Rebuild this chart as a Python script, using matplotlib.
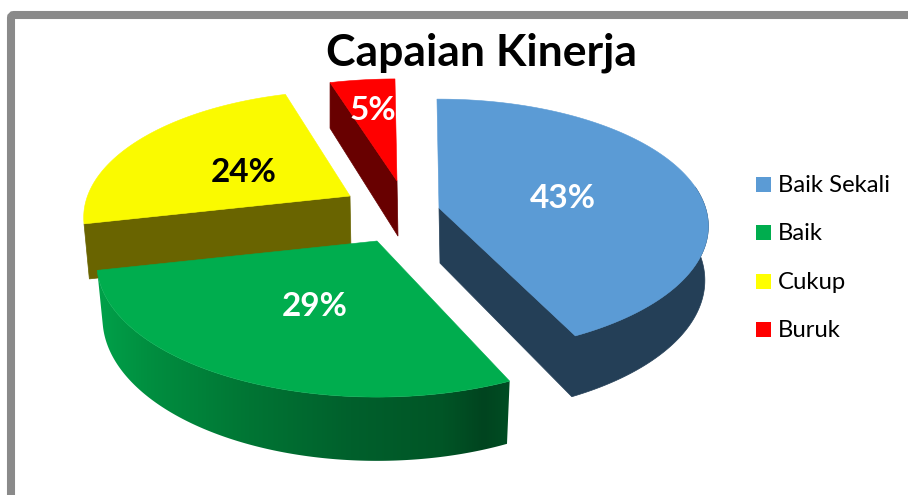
import numpy as np
import matplotlib
matplotlib.use('Agg')
import matplotlib.pyplot as plt
from matplotlib.patches import Polygon, Rectangle, FancyBboxPatch
from matplotlib.colors import to_rgb

plt.rcParams['font.family'] = ['Lato', 'DejaVu Sans']

# data
labels = ['Baik Sekali', 'Baik', 'Cukup', 'Buruk']
values = [43, 29, 24, 4.5]  # slice sizes
pct_labels = ['43%', '29%', '24%', '5%']

# styles
top_colors = ['#5b9bd5', '#00ad4e', '#fafa00', '#ff0000']
cut_colors = ['#243f57', '#00441f', '#696400', '#680000']
pct_colors = ['white', 'white', 'black', 'white']
legend_colors = ['#5b9bd5', '#00ad4e', '#ffff00', '#ff0000']
wall_x = [100, 150, 250, 350, 440, 480, 510]
wall_cols = ['#00a24a', '#008f40', '#007534', '#00602c', '#005526', '#00441f', '#004f24']

# layout, in pixels of the 908x495 picture
W, H = 908, 495
apex = [(439, 208), (377, 241), (350, 196), (397, 181)]
pct_pos = [(563, 199), (315, 307), (244, 172), (373, 110)]
rx_scale = [0.98, 1.015, 0.965, 1.0]
ry_scale = [0.96, 1.0, 0.95, 0.92]
k_persp = [0.1435, 0.169, 0.169, 0.169]
x_shift = [-3.5, 0, 0, 0]
x_shrink = [0, 0.02, 0.02, 0]
start_trim = [0, 2.5, 0, 0]
RX, RY = 272, 129.7
DEPTH = 53
START = -0.5


def project(ang, i, drop=0.0):
    # ang = clockwise degrees from 12 o'clock, simple perspective on the pie plane
    t = np.radians(ang)
    u, v = np.sin(t), np.cos(t)
    s = 1 / (1 + k_persp[i] * v)
    x = apex[i][0] + RX * rx_scale[i] * u * s * (1 - x_shrink[i] * drop) + x_shift[i] * drop
    y = apex[i][1] - RY * ry_scale[i] * v * s + DEPTH * s * drop
    return x, y


def arc(a0, a1, i, drop=0.0, n=160):
    x, y = project(np.linspace(a0, a1, n), i, drop)
    return np.column_stack([x, y])


fig = plt.figure(figsize=(W / 100, H / 100), dpi=100)
ax = fig.add_axes([0, 0, 1, 1])

# frame
ax.add_patch(FancyBboxPatch((11, 15), W + 40, H + 40, boxstyle='round,pad=0,rounding_size=3',
                            fc='white', ec='#8a8a8a', lw=5.8, zorder=0))

edges = np.cumsum([0] + values) / sum(values) * 360 + START

# yellow and red sit behind, green in front
for z, i in enumerate([2, 3, 0, 1]):
    a0, a1 = edges[i] + start_trim[i], edges[i + 1]
    c = apex[i]
    zz = 1 + z * 0.1
    low_c = (c[0] + 1, c[1] + DEPTH * 1.04)

    if i == 0:
        # blue cut face and wall as one shape, so no seam between them
        side = np.vstack([[c], [low_c], arc(a1, 80, i, 1.0), arc(80, a1, i)])
        ax.add_patch(Polygon(side, fc=cut_colors[i], ec=cut_colors[i], lw=0.5, zorder=zz))
    elif i == 1:
        # green wall gets darker to the right
        wall = np.vstack([arc(a0, a1, i), arc(a0, a1, i, 1.0)[::-1]])
        clip = Polygon(wall, fc='none', ec='none', zorder=zz)
        ax.add_patch(clip)
        xs = np.arange(wall_x[0], wall_x[-1] + 1)
        rgb = np.array([to_rgb(col) for col in wall_cols])
        grad = np.column_stack([np.interp(xs, wall_x, rgb[:, k]) for k in range(3)])
        im = ax.imshow(grad[np.newaxis, :, :], extent=[xs[0] - 5, xs[-1] + 5, 470, 240],
                       aspect='auto', zorder=zz, interpolation='bilinear')
        im.set_clip_path(clip)
    else:
        # radial cut face of yellow and red
        ax.add_patch(Polygon([c, project(a0, i), project(a0, i, 1.0), low_c],
                             fc=cut_colors[i], ec=cut_colors[i], lw=0.5, zorder=zz))

    ax.add_patch(Polygon(np.vstack([c, arc(a0, a1, i)]), fc=top_colors[i], ec=top_colors[i],
                         lw=0.4, zorder=zz + 0.05))

ax.set_xlim(0, W)
ax.set_ylim(H, 0)
ax.axis('off')

for i in range(4):
    ax.text(pct_pos[i][0], pct_pos[i][1], pct_labels[i], color=pct_colors[i], fontsize=24,
            fontweight='bold', ha='center', va='center', zorder=5)

ax.text(481, 53, 'Capaian Kinerja', fontsize=32, fontweight='bold', ha='center', va='center',
        color='black', zorder=5)

# legend
for i, name in enumerate(labels):
    yy = 184.5 + i * 48.3
    ax.add_patch(Rectangle((756, yy - 7.5), 15, 15, fc=legend_colors[i], ec='none', zorder=5))
    ax.text(778, yy + 1, name, fontsize=17.2, ha='left', va='center', color='black', zorder=5)

fig.savefig('out.png', dpi=100)
